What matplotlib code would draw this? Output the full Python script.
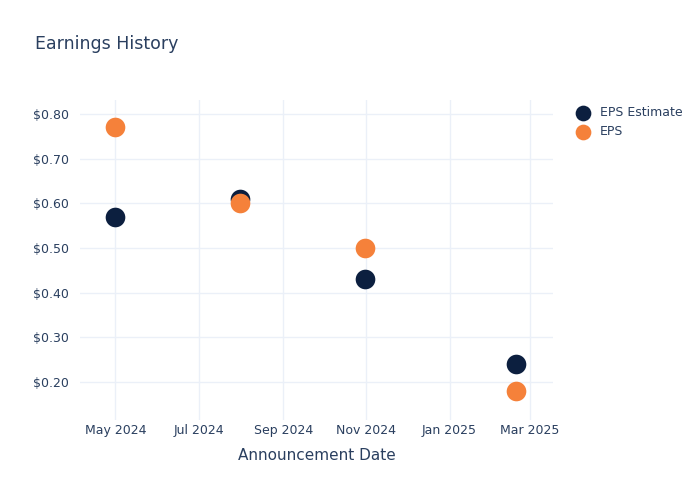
import matplotlib.pyplot as plt
import matplotlib.dates as mdates
import numpy as np
from matplotlib.ticker import FuncFormatter

dates = np.array(["2024-05-01", "2024-07-31", "2024-10-31", "2025-02-19"], dtype="datetime64[D]")
eps_estimate = [0.57, 0.61, 0.43, 0.24]
eps_actual = [0.77, 0.60, 0.50, 0.18]

navy = "#0c1f3f"
orange = "#f5813a"
text_col = "#2a3f5f"
grid_col = "#ebf0f8"

fig = plt.figure(figsize=(7, 5), dpi=100)
ax = fig.add_axes([0.1143, 0.16, 0.676, 0.64])

ax.scatter(dates, eps_estimate, s=200, color=navy, label="EPS Estimate", zorder=3, linewidths=0)
ax.scatter(dates, eps_actual, s=200, color=orange, label="EPS", zorder=4, linewidths=0)

ax.set_xlim(np.datetime64("2024-04-05"), np.datetime64("2025-03-18"))
ax.set_ylim(0.115, 0.831)

ax.xaxis.set_major_locator(mdates.MonthLocator(bymonth=[1, 3, 5, 7, 9, 11]))
ax.xaxis.set_major_formatter(mdates.DateFormatter("%b %Y"))
ax.set_yticks([0.2, 0.3, 0.4, 0.5, 0.6, 0.7, 0.8])
ax.yaxis.set_major_formatter(FuncFormatter(lambda v, p: f"${v:.2f}"))

ax.grid(True, color=grid_col, linewidth=1)
ax.set_axisbelow(True)
for s in ax.spines.values():
    s.set_visible(False)
ax.tick_params(length=0, labelsize=9, colors=text_col)
ax.tick_params(axis="x", pad=3)
ax.tick_params(axis="y", pad=8)

ax.set_xlabel("Announcement Date", fontsize=11, color=text_col, labelpad=8)
fig.text(0.05, 0.912, "Earnings History", fontsize=12.5, color=text_col, va="center")

leg = ax.legend(loc="upper left", bbox_to_anchor=(1.026, 0.997), frameon=False,
                fontsize=9, labelcolor=text_col, handletextpad=0.35, borderaxespad=0,
                labelspacing=0.5, markerscale=0.8)

plt.savefig("out.png", dpi=100)
